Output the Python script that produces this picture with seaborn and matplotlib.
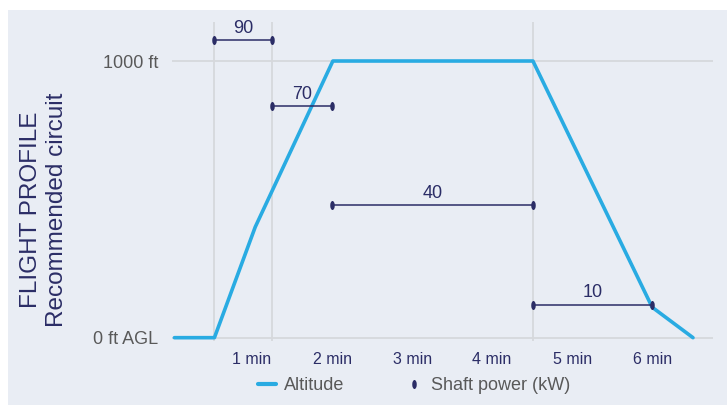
import matplotlib
matplotlib.use("Agg")
import matplotlib.pyplot as plt
import seaborn as sns
import pandas as pd
from matplotlib.path import Path
from matplotlib.transforms import Affine2D
from matplotlib.lines import Line2D
from matplotlib.patches import Rectangle

# altitude profile: time (min) and height (ft)
alt_time = [0.03, 0.53, 1.04, 2.01, 4.51, 6.0, 6.51]
alt_ft = [0, 0, 400, 1000, 1000, 110, 0]

# shaft power per phase (kW), from start to end time (min)
power_start = [0.53, 1.25, 2.0, 4.51]
power_end = [1.25, 2.0, 4.51, 6.0]
power_kw = [90, 70, 40, 10]

min_ticks = [1, 2, 3, 4, 5, 6]
min_labels = ["1 min", "2 min", "3 min", "4 min", "5 min", "6 min"]
alt_ticks = [0, 1000]
alt_labels = ["0 ft AGL", "1000 ft"]

BG = "#e9edf4"
BLUE = "#29abe2"
NAVY = "#2b2d66"
GREY = "#595959"
GRID = "#d6d8dc"

sns.set_style("white", {"axes.facecolor": BG})
plt.rcParams["font.family"] = ["Liberation Sans", "DejaVu Sans"]

W, H = 727, 405
fig = plt.figure(figsize=(W / 100, H / 100), dpi=100)
fig.patches.append(Rectangle((8 / W, 0), 1, (H - 10) / H, transform=fig.transFigure,
                             facecolor=BG, edgecolor="none", zorder=-1))
ax = fig.add_axes([172 / W, (H - 341) / H, (713 - 172) / W, (341 - 22) / H])
ax.set_facecolor(BG)

alt = pd.DataFrame({"time": alt_time, "alt": alt_ft})
sns.lineplot(data=alt, x="time", y="alt", ax=ax, color=BLUE, linewidth=2.6,
             sort=False, zorder=3)

ax.set_xlim(0, 6.76)
ax.set_ylim(-12, 1141)
ax.set_xticks(min_ticks)
ax.set_xticklabels(min_labels, fontsize=11.5, color=NAVY)
ax.set_xticks(sorted(set(power_start + power_end)), minor=True)
ax.set_yticks(alt_ticks)
ax.set_yticklabels(alt_labels, fontsize=13, color=GREY)
ax.tick_params(axis="both", which="both", length=0)
ax.tick_params(axis="x", pad=8)
ax.tick_params(axis="y", pad=10)
ax.grid(False)
ax.grid(True, axis="x", which="minor", color=GRID, linewidth=1.3)
ax.grid(True, axis="y", which="major", color=GRID, linewidth=1.3)
ax.set_xlabel("")
ax.set_ylabel("")
for s in ax.spines.values():
    s.set_visible(False)

# power on a twin axis, scaled so 0 kW sits on 0 ft
ax2 = ax.twinx()
scale = 11.95
ax2.set_ylim(-12 / scale, 1141 / scale)
ax2.set_yticks([])
for s in ax2.spines.values():
    s.set_visible(False)

ell = Path.unit_circle().transformed(Affine2D().scale(0.5, 1.0))
pw = pd.DataFrame({
    "seg": [i for i in range(len(power_kw)) for _ in range(2)],
    "time": [t for a, b in zip(power_start, power_end) for t in (a, b)],
    "kw": [p for p in power_kw for _ in range(2)],
})
sns.lineplot(data=pw, x="time", y="kw", units="seg", estimator=None, ax=ax2,
             color=NAVY, linewidth=1.1, marker=ell, markersize=6.5,
             markeredgewidth=0, zorder=4)
for a, b, p in zip(power_start, power_end, power_kw):
    ax2.annotate(str(p), ((a + b) / 2, p), xytext=(0, 2.5), textcoords="offset points",
                 ha="center", va="bottom", fontsize=13, color=NAVY)
ax2.set_xlabel("")
ax2.set_ylabel("")

fig.text(44 / W, (H - 210) / H, "FLIGHT PROFILE\nRecommended circuit", rotation=90,
         ha="center", va="center", multialignment="center", fontsize=17.5,
         color=NAVY, linespacing=1.2)

handles = [Line2D([], [], color=BLUE, linewidth=3),
           Line2D([], [], color=NAVY, linestyle="none", marker=ell, markersize=6.5,
                  markeredgewidth=0)]
fig.legend(handles, ["Altitude", "Shaft power (kW)"], loc="center",
           bbox_to_anchor=(414 / W, 19 / H), ncol=2, frameon=False, fontsize=13,
           labelcolor=GREY, handlelength=1.0, handletextpad=0.4, columnspacing=3.4)

fig.savefig("out.png", dpi=100, facecolor="white")
